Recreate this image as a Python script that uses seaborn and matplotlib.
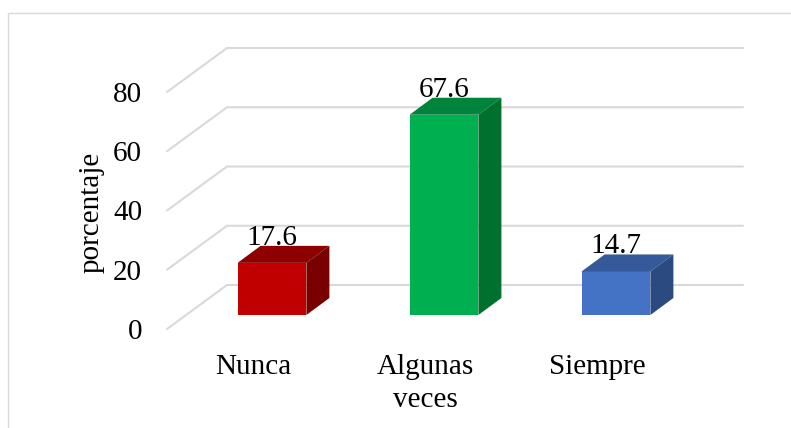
import numpy as np
import pandas as pd
import matplotlib
matplotlib.use("Agg")
import matplotlib.pyplot as plt
import seaborn as sns
from matplotlib.patches import Polygon, Rectangle

# Datos
categorias = ["Nunca", "Algunas\nveces", "Siempre"]
porcentajes = [17.6, 67.6, 14.7]
etiquetas = ["17.6", "67.6", "14.7"]
ticks_y = [0, 20, 40, 60, 80]

# Colores (frente, techo, lado)
col_frente = ["#C00000", "#00B050", "#4472C4"]
col_techo = ["#8E0000", "#00843C", "#35599A"]
col_lado = ["#780000", "#00702F", "#2B4A80"]
gris = "#d9d9d9"

sns.set_style("white")
plt.rcParams["font.family"] = ["Liberation Serif", "DejaVu Serif"]
plt.rcParams["text.color"] = "black"
fs = 21

fig = plt.figure(figsize=(7.91, 4.28), dpi=100)
W, H = 791, 428
ax = fig.add_axes([186 / W, 113 / H, 516 / W, 237 / H])

df = pd.DataFrame({"cat": categorias, "pct": porcentajes})
sns.barplot(data=df, x="cat", y="pct", hue="cat", palette=col_frente,
            width=0.4, saturation=1, legend=False, linewidth=0, ax=ax, zorder=3)
ax.set_xlim(-0.5, 2.5)
ax.set_ylim(0, 80)
ax.axis("off")

# pixeles -> unidades de datos
sx, sy = ax.transData.transform((1, 1)) - ax.transData.transform((0, 0))
def d(px, py):
    return px / sx, py / sy

fx, fy = d(-19, -14)   # piso frontal
bx, by = d(41, 30)     # pared del fondo
px_, py_ = d(23, 17)   # profundidad de la barra

# rejilla 3D
for v in ticks_y:
    ax.plot([-0.5 + fx, -0.5 + bx, 2.5 + bx], [v + fy, v + by, v + by],
            color=gris, lw=1.5, clip_on=False, zorder=1)
    tx, ty = d(-25, -3)
    ax.text(-0.5 + fx + tx, v + fy + ty, str(v), ha="right", va="center",
            fontsize=fs, color="black", clip_on=False)

# distancia entre linea base y borde superior del texto (para etiquetas de varias lineas)
r = fig.canvas.get_renderer()
a = ax.text(0, 0, "Nunca", fontsize=fs, va="top")
b = ax.text(0, 0, "Nunca", fontsize=fs, va="baseline")
sube = b.get_window_extent(r).y1 - a.get_window_extent(r).y1
a.remove()
b.remove()

# caras 3D de las barras
barras = sorted(ax.patches, key=lambda p: p.get_x())
for i, p in enumerate(barras):
    x0 = p.get_x()
    x1 = x0 + p.get_width()
    h = p.get_height()
    techo = [(x0, h), (x1, h), (x1 + px_, h + py_), (x0 + px_, h + py_)]
    lado = [(x1, 0), (x1 + px_, py_), (x1 + px_, h + py_), (x1, h)]
    ax.add_patch(Polygon(techo, closed=True, color=col_techo[i], lw=0,
                         clip_on=False, zorder=3))
    ax.add_patch(Polygon(lado, closed=True, color=col_lado[i], lw=0,
                         clip_on=False, zorder=3))
    xc = x0 + p.get_width() / 2
    ax.text(xc, h + py_ + d(0, 1)[1], etiquetas[i], ha="center", va="baseline",
            fontsize=fs, color="black", clip_on=False, zorder=5)
    # etiqueta de categoria, primera linea en su linea base
    lx, ly = d(0, -45 + sube)
    ax.text(xc + fx, fy + ly, categorias[i], ha="center", va="top",
            fontsize=fs, color="black", linespacing=1.35, clip_on=False)

fig.text(92 / W, 1 - 212 / H, "porcentaje", rotation=90, ha="center",
         va="center", fontsize=fs, color="black")

# borde del grafico
fig.add_artist(Rectangle((8 / W, -0.05), 1.0, 1 - 13 / H + 0.05, fill=False,
                         edgecolor=gris, lw=1, transform=fig.transFigure))

fig.savefig("out.png", dpi=100)
